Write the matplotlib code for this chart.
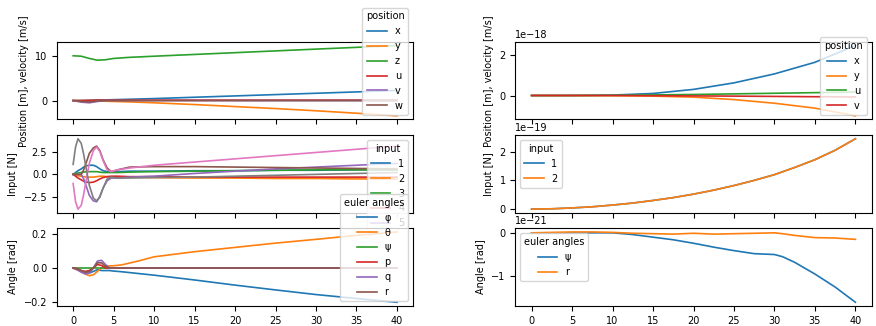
import numpy as np
import matplotlib
matplotlib.use("Agg")
import matplotlib.pyplot as plt

plt.rcParams['font.size'] = 7

# ---- left column: full model ----
t_pos = [0, 1, 2, 3, 4, 5, 7, 10, 15, 20, 25, 30, 35, 40]
pos_x = [0, 0.0, 0.05, 0.1, 0.15, 0.2, 0.3, 0.45, 0.75, 1.05, 1.35, 1.65, 1.95, 2.3]
pos_y = [0, -0.02, -0.05, -0.1, -0.15, -0.2, -0.3, -0.5, -0.9, -1.35, -1.8, -2.3, -2.85, -3.45]
pos_z = [10.1, 10.0, 9.5, 9.1, 9.2, 9.5, 9.75, 10.0, 10.4, 10.8, 11.2, 11.6, 12.0, 12.4]
pos_u = [0, 0.0, 0.05, 0.1, 0.1, 0.1, 0.1, 0.1, 0.1, 0.1, 0.1, 0.1, 0.1, 0.1]
pos_v = [0, -0.35, -0.5, -0.2, 0.0, 0.0, 0.0, 0.0, 0.0, 0.0, 0.0, 0.0, 0.0, 0.0]
pos_w = [0, -0.2, -0.3, -0.1, 0.0, 0.0, 0.0, 0.0, 0.0, 0.0, 0.0, 0.0, 0.0, 0.0]
pos_labels = ['x', 'y', 'z', 'u', 'v', 'w']

t_in = [0, 0.3, 0.6, 1.0, 1.3, 1.7, 2.0, 2.5, 2.9, 3.3, 3.7, 4.2, 4.7, 5.5, 7, 10, 15, 20, 25, 30, 35, 40]
in_1 = [0, 0.2, 0.4, 0.6, 0.8, 0.95, 1.0, 1.0, 0.85, 0.6, 0.4, 0.3, 0.3, 0.3, 0.35, 0.35, 0.4, 0.4, 0.45, 0.45, 0.5, 0.5]
in_2 = [0, -0.1, -0.15, -0.2, -0.25, -0.3, -0.3, -0.3, -0.25, -0.2, -0.2, -0.25, -0.3, -0.3, -0.3, -0.35, -0.4, -0.4, -0.45, -0.45, -0.5, -0.5]
in_3 = [0, 0.1, 0.15, 0.2, 0.25, 0.3, 0.3, 0.3, 0.3, 0.25, 0.2, 0.2, 0.2, 0.2, 0.25, 0.3, 0.35, 0.4, 0.45, 0.5, 0.5, 0.5]
in_4 = [0, -0.2, -0.4, -0.6, -0.75, -0.85, -0.9, -0.85, -0.7, -0.5, -0.35, -0.25, -0.2, -0.2, -0.25, -0.25, -0.3, -0.3, -0.3, -0.3, -0.3, -0.3]
in_5 = [0, 0.0, 0.0, 0.0, -0.5, -1.5, -2.3, -2.9, -3.0, -2.4, -1.5, -0.7, -0.4, -0.4, -0.3, -0.2, 0.1, 0.35, 0.6, 0.8, 1.0, 1.2]
in_6 = [0, 0.0, 0.0, 0.0, 0.5, 1.5, 2.3, 2.9, 3.1, 2.6, 1.6, 0.7, 0.3, 0.5, 0.8, 0.85, 0.85, 0.8, 0.75, 0.7, 0.65, 0.6]
in_7 = [-1.0, -3.0, -3.8, -3.4, -2.2, -0.2, 1.2, 2.6, 3.0, 2.5, 1.5, 0.5, 0.3, 0.5, 0.7, 1.0, 1.35, 1.7, 2.05, 2.4, 2.75, 3.1]
in_8 = [1.1, 3.0, 3.9, 3.4, 2.2, 0.2, -1.2, -2.6, -2.9, -2.5, -1.5, -0.5, -0.3, -0.4, -0.4, -0.35, -0.3, -0.2, -0.1, 0.0, 0.1, 0.2]
in_labels = ['1', '2', '3', '4', '5', '6', '7', '8']

t_eul = [0, 0.5, 1.0, 1.5, 2.0, 2.5, 3.0, 3.5, 4.0, 4.5, 5, 6, 8, 10, 15, 20, 25, 30, 35, 40]
eul_phi = [0, -0.01, -0.02, -0.03, -0.03, -0.02, -0.01, -0.015, -0.015, -0.015, -0.018, -0.022, -0.032, -0.042, -0.07, -0.1, -0.128, -0.155, -0.178, -0.2]
eul_theta = [0, -0.01, -0.02, -0.035, -0.045, -0.04, -0.02, 0.0, 0.01, 0.012, 0.013, 0.018, 0.04, 0.065, 0.095, 0.12, 0.145, 0.167, 0.19, 0.21]
eul_psi = [0, 0, 0, 0, 0, 0, 0, 0, 0, 0, 0, 0, 0, 0, 0, 0, 0, 0, 0, 0]
eul_p = [0, -0.005, -0.015, -0.02, -0.015, 0.0, 0.02, 0.015, 0.0, 0.0, 0, 0, 0, 0, 0, 0, 0, 0, 0, 0]
eul_q = [0, -0.01, -0.025, -0.035, -0.03, 0.0, 0.04, 0.045, 0.02, 0.0, 0, 0, 0, 0, 0, 0, 0, 0, 0, 0]
eul_r = [0, -0.005, -0.015, -0.025, -0.02, 0.0, 0.03, 0.03, 0.01, 0.0, 0, 0, 0, 0, 0, 0, 0, 0, 0, 0]
eul_labels = ['φ', 'θ', 'ψ', 'p', 'q', 'r']

# ---- right column: linearised model (tiny values) ----
t_lin = [0, 5, 10, 15, 20, 25, 30, 35, 40]
lin_x = [0, 0.0, 0.02, 0.1, 0.3, 0.62, 1.06, 1.63, 2.45]
lin_y = [0, 0.0, -0.01, -0.03, -0.08, -0.2, -0.38, -0.62, -1.0]
lin_u = [0, 0.0, 0.01, 0.03, 0.05, 0.08, 0.11, 0.14, 0.17]
lin_v = [0, 0.0, 0.0, -0.01, -0.02, -0.03, -0.045, -0.06, -0.07]
lin_pos_labels = ['x', 'y', 'u', 'v']

t_lin_in = [0, 2.5, 5, 7.5, 10, 12.5, 15, 17.5, 20, 22.5, 25, 27.5, 30, 32.5, 35, 37.5, 40]
lin_in_1 = [0, 0.01, 0.04, 0.08, 0.14, 0.21, 0.3, 0.4, 0.52, 0.66, 0.82, 1.0, 1.2, 1.45, 1.72, 2.05, 2.45]
lin_in_2 = [0, 0.01, 0.04, 0.08, 0.14, 0.21, 0.3, 0.4, 0.52, 0.66, 0.82, 1.0, 1.2, 1.45, 1.72, 2.05, 2.45]
lin_in_labels = ['1', '2']

t_lin_eul = [0, 2.5, 5, 7.5, 10, 12.5, 15, 17.5, 20, 22.5, 25, 27.5, 30, 31, 32.5, 35, 37.5, 40]
lin_psi = [0, 0.0, 0.0, 0.0, 0.0, -0.04, -0.1, -0.16, -0.24, -0.33, -0.41, -0.48, -0.5, -0.55, -0.68, -0.95, -1.25, -1.6]
lin_r = [0, 0.01, 0.02, 0.02, 0.01, -0.01, -0.02, -0.03, -0.01, -0.03, -0.02, -0.01, 0.0, -0.02, -0.06, -0.11, -0.12, -0.15]
lin_eul_labels = ['ψ', 'r']

fig, axes = plt.subplots(3, 2, figsize=(8.76, 3.26), dpi=100, sharex=True)
fig.subplots_adjust(left=0.065, right=0.995, top=0.871, bottom=0.062, wspace=0.287, hspace=0.205)

ax = axes[0, 0]
for vals, lab in zip([pos_x, pos_y, pos_z, pos_u, pos_v, pos_w], pos_labels):
    ax.plot(t_pos, vals, label=lab, lw=1.2)
ax.set_yticks([0, 10])
ax.set_ylabel('Position [m], velocity [m/s]')
ax.legend(title='position', loc='lower right')

ax = axes[1, 0]
for vals, lab in zip([in_1, in_2, in_3, in_4, in_5, in_6, in_7, in_8], in_labels):
    ax.plot(t_in, vals, label=lab, lw=1.2)
ax.set_ylabel('Input [N]')
ax.legend(title='input', loc='upper right')

ax = axes[2, 0]
for vals, lab in zip([eul_phi, eul_theta, eul_psi, eul_p, eul_q, eul_r], eul_labels):
    ax.plot(t_eul, vals, label=lab, lw=1.2)
ax.set_ylabel('Angle [rad]')
ax.legend(title='euler angles', loc='lower right')

ax = axes[0, 1]
for vals, lab in zip([lin_x, lin_y, lin_u, lin_v], lin_pos_labels):
    ax.plot(t_lin, np.array(vals) * 1e-18, label=lab, lw=1.2)
ax.set_yticks([0, 2e-18])
ax.set_ylabel('Position [m], velocity [m/s]')
ax.legend(title='position', loc='lower right')

ax = axes[1, 1]
for vals, lab in zip([lin_in_1, lin_in_2], lin_in_labels):
    ax.plot(t_lin_in, np.array(vals) * 1e-19, label=lab, lw=1.2)
ax.set_yticks([0, 1e-19, 2e-19])
ax.set_ylabel('Input [N]')
ax.legend(title='input', loc='upper left')

ax = axes[2, 1]
for vals, lab in zip([lin_psi, lin_r], lin_eul_labels):
    ax.plot(t_lin_eul, np.array(vals) * 1e-21, label=lab, lw=1.2)
ax.set_yticks([-1e-21, 0])
ax.set_ylabel('Angle [rad]')
ax.legend(title='euler angles', loc='upper left')

fig.savefig('out.png', dpi=100)
